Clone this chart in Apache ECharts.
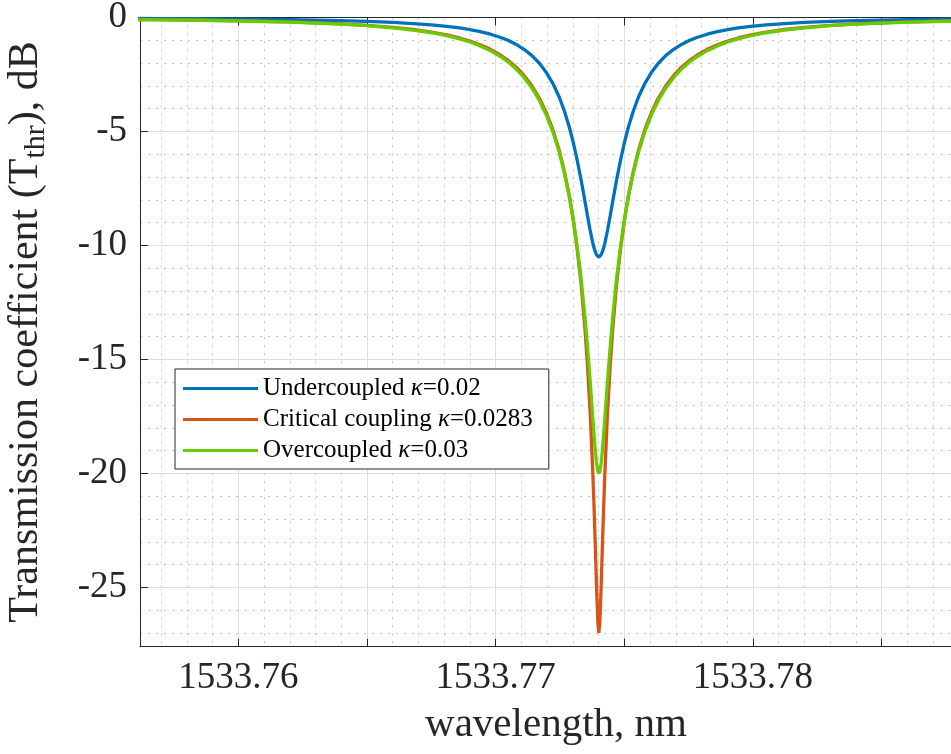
<!DOCTYPE html>
<html><head><meta charset="utf-8">
<script src="https://cdn.jsdelivr.net/npm/echarts@6/dist/echarts.min.js"></script>
<style>html,body{margin:0;padding:0;background:#fff}#c{width:951px;height:754px}</style>
</head><body><div id="c"></div>
<script>
// wavelength samples (nm)
const wavelength = [
  1533.7561, 1533.7570, 1533.7580, 1533.7590, 1533.7600, 1533.7610, 1533.7620, 1533.7630, 1533.7640, 1533.7650,
  1533.7660, 1533.7668, 1533.7675, 1533.7681, 1533.7686, 1533.7690, 1533.7694, 1533.7698, 1533.7702, 1533.7705,
  1533.7708, 1533.7711, 1533.7714, 1533.7717, 1533.77197, 1533.77222, 1533.77247, 1533.77267, 1533.77287, 1533.77302,
  1533.77317, 1533.77332, 1533.77347, 1533.77357, 1533.77367, 1533.77377, 1533.77382, 1533.77387, 1533.77392, 1533.77397,
  1533.77401,
  1533.77405, 1533.77410, 1533.77415, 1533.77420, 1533.77425, 1533.77435, 1533.77445, 1533.77455, 1533.77470, 1533.77485,
  1533.77500, 1533.77515, 1533.77535, 1533.77555, 1533.77580, 1533.77605, 1533.77632, 1533.77662, 1533.77692, 1533.77722,
  1533.77752, 1533.77782, 1533.77822, 1533.77862, 1533.77902, 1533.77942, 1533.77992, 1533.78052, 1533.78122, 1533.78202,
  1533.78302, 1533.78402, 1533.78502, 1533.78602, 1533.78702, 1533.78802, 1533.78902];
// Transmission (dB)
const undercoupled = [
  -0.045, -0.050, -0.056, -0.064, -0.073, -0.085, -0.099, -0.118, -0.142, -0.174,
  -0.219, -0.269, -0.327, -0.393, -0.464, -0.536, -0.625, -0.737, -0.881, -1.017,
  -1.185, -1.399, -1.667, -2.012, -2.418, -2.890, -3.493, -4.106, -4.841, -5.508,
  -6.275, -7.120, -8.066, -8.713, -9.324, -9.867, -10.093, -10.276, -10.408, -10.486,
  -10.506,
  -10.486, -10.408, -10.276, -10.093, -9.867, -9.324, -8.713, -8.066, -7.120, -6.275,
  -5.508, -4.841, -4.106, -3.493, -2.890, -2.418, -2.012, -1.667, -1.399, -1.185,
  -1.017, -0.881, -0.737, -0.625, -0.536, -0.464, -0.393, -0.327, -0.269, -0.219,
  -0.174, -0.142, -0.118, -0.099, -0.085, -0.073, -0.064];
const critical = [
  -0.091, -0.100, -0.113, -0.128, -0.147, -0.170, -0.199, -0.236, -0.284, -0.347,
  -0.435, -0.531, -0.642, -0.768, -0.902, -1.035, -1.198, -1.402, -1.659, -1.897,
  -2.186, -2.546, -2.989, -3.546, -4.183, -4.913, -5.828, -6.755, -7.874, -8.918,
  -10.179, -11.688, -13.647, -15.286, -17.270, -19.819, -21.373, -23.117, -24.950, -26.497,
  -26.990,
  -26.497, -24.950, -23.117, -21.373, -19.819, -17.270, -15.286, -13.647, -11.688, -10.179,
  -8.918, -7.874, -6.755, -5.828, -4.913, -4.183, -3.546, -2.989, -2.546, -2.186,
  -1.897, -1.659, -1.402, -1.198, -1.035, -0.902, -0.768, -0.642, -0.531, -0.435,
  -0.347, -0.284, -0.236, -0.199, -0.170, -0.147, -0.128];
const overcoupled = [
  -0.095, -0.105, -0.119, -0.135, -0.154, -0.179, -0.209, -0.247, -0.298, -0.364,
  -0.456, -0.556, -0.673, -0.803, -0.942, -1.080, -1.250, -1.460, -1.724, -1.969,
  -2.265, -2.632, -3.081, -3.643, -4.283, -5.010, -5.914, -6.820, -7.902, -8.895,
  -10.072, -11.441, -13.133, -14.454, -15.906, -17.496, -18.255, -18.966, -19.540, -19.905,
  -20.000,
  -19.905, -19.540, -18.966, -18.255, -17.496, -15.906, -14.454, -13.133, -11.441, -10.072,
  -8.895, -7.902, -6.820, -5.914, -5.010, -4.283, -3.643, -3.081, -2.632, -2.265,
  -1.969, -1.724, -1.460, -1.250, -1.080, -0.942, -0.803, -0.673, -0.556, -0.456,
  -0.364, -0.298, -0.247, -0.209, -0.179, -0.154, -0.135];
const seriesNames = ['Undercoupled κ=0.02', 'Critical coupling κ=0.0283', 'Overcoupled κ=0.03'];
const seriesColors = ['#0072BD', '#D95319', '#66CC00'];
const xTickLabels = ['1533.76', '1533.77', '1533.78'];
const yTickLabels = ['0', '-5', '-10', '-15', '-20', '-25'];

const FONT = 'Liberation Serif';
const AX = '#262626';
const chart = echarts.init(document.getElementById('c'), null, {renderer: 'canvas'});

function xFmt(v) {
  const s = v.toFixed(2);
  if (Math.abs(v * 100 - Math.round(v * 100)) < 1e-5 && xTickLabels.indexOf(s) >= 0) return s;
  return '';
}
function yFmt(v) {
  const r = Math.round(v);
  if (Math.abs(v - r) < 1e-6 && yTickLabels.indexOf(String(r)) >= 0) return String(r);
  return '';
}
const xCommon = {
  type: 'value', min: 1533.75618, max: 1533.78851, splitNumber: 6,
  minInterval: 0.005, maxInterval: 0.005
};
const data = [undercoupled, critical, overcoupled];

chart.setOption({
  animation: false,
  backgroundColor: '#fff',
  grid: {left: 140, top: 17.4, right: -21, bottom: 754 - 646.7, containLabel: false, outerBoundsMode: 'none'},
  legend: {
    orient: 'vertical', left: 175, top: 369, icon: 'rect', itemWidth: 75, itemHeight: 3, itemGap: 6,
    padding: [7, 16, 6, 8], backgroundColor: '#fff', borderColor: AX, borderWidth: 1, borderRadius: 0,
    textStyle: {fontFamily: FONT, fontSize: 25, color: '#000',
      rich: {k: {fontFamily: FONT, fontSize: 25, fontStyle: 'italic', color: '#000'}}},
    formatter: n => n.replace('κ', '{k|κ}'),
    data: seriesNames
  },
  xAxis: [
    Object.assign({}, xCommon, {
      position: 'bottom',
      axisLine: {show: true, onZero: false, lineStyle: {color: AX, width: 1}},
      axisTick: {show: true, inside: true, length: 8, lineStyle: {color: AX, width: 1}},
      axisLabel: {formatter: xFmt, fontFamily: FONT, fontSize: 37, color: AX, margin: 13, hideOverlap: false},
      splitLine: {show: true, lineStyle: {color: '#dedede', width: 1}},
      minorTick: {show: false, splitNumber: 5},
      minorSplitLine: {show: true, lineStyle: {color: '#c4c4c4', width: 1, type: [2, 6]}},
      name: 'wavelength, nm', nameLocation: 'middle', nameGap: 58,
      nameTextStyle: {fontFamily: FONT, fontSize: 41, color: AX}
    }),
    Object.assign({}, xCommon, {
      position: 'top',
      axisLine: {show: true, onZero: false, lineStyle: {color: AX, width: 1}},
      axisTick: {show: true, inside: true, length: 8, lineStyle: {color: AX, width: 1}},
      axisLabel: {show: false},
      splitLine: {show: false}
    })
  ],
  yAxis: {
    type: 'value', min: -27.6, max: 0, splitNumber: 6, minInterval: 5, maxInterval: 5,
    axisLine: {show: true, onZero: false, lineStyle: {color: AX, width: 1}},
    axisTick: {show: true, inside: true, length: 8, lineStyle: {color: AX, width: 1}},
    axisLabel: {formatter: yFmt, fontFamily: FONT, fontSize: 37, color: AX, margin: 13, hideOverlap: false},
    splitLine: {show: true, lineStyle: {color: '#dedede', width: 1}},
    minorTick: {show: false, splitNumber: 5},
    minorSplitLine: {show: true, lineStyle: {color: '#c4c4c4', width: 1, type: [2, 6]}},
    name: 'Transmission coefficient (T{s|thr}), dB', nameLocation: 'middle', nameGap: 89,
    nameTextStyle: {fontFamily: FONT, fontSize: 42, color: AX,
      rich: {s: {fontFamily: FONT, fontSize: 30, color: AX, padding: [20, 0, 0, 0]}}}
  },
  series: seriesNames.map((n, i) => ({
    name: n, type: 'line', xAxisIndex: 0, symbol: 'none', showSymbol: false, smooth: false,
    lineStyle: {width: 3.3, color: seriesColors[i]}, itemStyle: {color: seriesColors[i]},
    data: wavelength.map((w, j) => [w, data[i][j]]), z: 2 + i
  }))
});
</script></body></html>
